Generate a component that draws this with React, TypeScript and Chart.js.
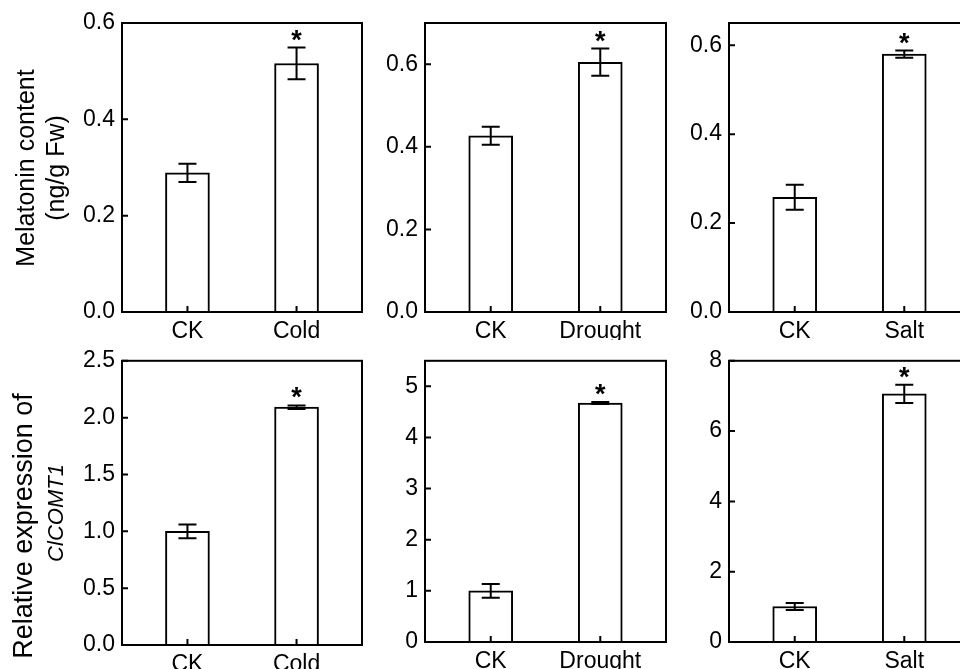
import React, { useEffect, useRef } from 'react';
import { Chart, registerables } from 'chart.js';

Chart.register(...registerables);

// ---------- data ----------
const coldCategories = ['CK', 'Cold'];
const droughtCategories = ['CK', 'Drought'];
const saltCategories = ['CK', 'Salt'];

const melatoninCold = [0.289, 0.516];
const melatoninColdErr = [0.019, 0.033];
const melatoninDrought = [0.427, 0.605];
const melatoninDroughtErr = [0.022, 0.033];
const melatoninSalt = [0.258, 0.58];
const melatoninSaltErr = [0.028, 0.008];

const expressionCold = [1.0, 2.092];
const expressionColdErr = [0.06, 0.015];
const expressionDrought = [1.0, 4.673];
const expressionDroughtErr = [0.135, 0.02];
const expressionSalt = [1.01, 7.06];
const expressionSaltErr = [0.1, 0.26];

const significant = [false, true];

const melatoninTicks = [0, 0.2, 0.4, 0.6];
const expressionColdTicks = [0, 0.5, 1.0, 1.5, 2.0, 2.5];
const expressionDroughtTicks = [0, 1, 2, 3, 4, 5];
const expressionSaltTicks = [0, 2, 4, 6, 8];

const melatoninTitle = ['Melatonin content', '(ng/g Fw)'];
const expressionTitle = ['Relative expression of', 'ClCOMT1'];

// ---------- layout / style ----------
const FONT = '"Liberation Sans", Arial, Helvetica, sans-serif';
const TICK_SIZE = 23;

type TitleLine = { x: number; cy: number; size: number; italic: boolean };

type Panel = {
  left: number; top: number; width: number; height: number;
  boxLeft: number; boxRight: number; boxTop: number; boxBottom: number;
  categories: string[]; means: number[]; errs: number[];
  ticks: number[]; max: number; decimals: number;
  title?: string[]; titleStyle?: TitleLine[];
};

const panels: Panel[] = [
  { left: 0, top: 0, width: 365, height: 340, boxLeft: 122, boxRight: 362, boxTop: 23, boxBottom: 312,
    categories: coldCategories, means: melatoninCold, errs: melatoninColdErr, ticks: melatoninTicks, max: 0.6, decimals: 1,
    title: melatoninTitle,
    titleStyle: [ { x: 27, cy: 168, size: 25, italic: false }, { x: 57, cy: 168, size: 25, italic: false } ] },
  { left: 365, top: 0, width: 304, height: 340, boxLeft: 425, boxRight: 666, boxTop: 23, boxBottom: 312,
    categories: droughtCategories, means: melatoninDrought, errs: melatoninDroughtErr, ticks: melatoninTicks, max: 0.7, decimals: 1 },
  { left: 669, top: 0, width: 304, height: 340, boxLeft: 729, boxRight: 970, boxTop: 23, boxBottom: 312,
    categories: saltCategories, means: melatoninSalt, errs: melatoninSaltErr, ticks: melatoninTicks, max: 0.65, decimals: 1 },
  { left: 0, top: 340, width: 365, height: 329, boxLeft: 122, boxRight: 362, boxTop: 357, boxBottom: 645,
    categories: coldCategories, means: expressionCold, errs: expressionColdErr, ticks: expressionColdTicks, max: 2.5, decimals: 1,
    title: expressionTitle,
    titleStyle: [ { x: 25, cy: 526, size: 27, italic: false }, { x: 57, cy: 513, size: 22, italic: true } ] },
  { left: 365, top: 340, width: 304, height: 329, boxLeft: 425, boxRight: 666, boxTop: 354, boxBottom: 642,
    categories: droughtCategories, means: expressionDrought, errs: expressionDroughtErr, ticks: expressionDroughtTicks, max: 5.5, decimals: 0 },
  { left: 669, top: 340, width: 304, height: 329, boxLeft: 729, boxRight: 970, boxTop: 354, boxBottom: 642,
    categories: saltCategories, means: expressionSalt, errs: expressionSaltErr, ticks: expressionSaltTicks, max: 8, decimals: 0 },
];

const decorPlugin = {
  id: 'panelDecor',
  afterDraw(chart: any, _args: any, opts: any) {
    const { ctx, chartArea: a, scales } = chart;
    const xs = scales.x, ys = scales.y;
    ctx.save();
    ctx.strokeStyle = '#000';
    ctx.fillStyle = '#000';
    ctx.lineWidth = 2;
    const means: number[] = opts.means;
    const errs: number[] = opts.errs;
    // error bars + significance marks
    means.forEach((m, i) => {
      const px = xs.getPixelForValue(i);
      const top = ys.getPixelForValue(m + errs[i]);
      const bot = ys.getPixelForValue(m - errs[i]);
      ctx.beginPath();
      ctx.moveTo(px, top); ctx.lineTo(px, bot);
      ctx.moveTo(px - 9, top); ctx.lineTo(px + 9, top);
      ctx.moveTo(px - 9, bot); ctx.lineTo(px + 9, bot);
      ctx.stroke();
      if (significant[i]) {
        ctx.font = `bold 27px ${FONT}`;
        ctx.textAlign = 'center';
        ctx.textBaseline = 'alphabetic';
        ctx.fillText('*', px, top + 1);
      }
    });
    // inward tick marks
    ctx.beginPath();
    ys.ticks.forEach((t: any) => {
      const py = ys.getPixelForValue(t.value);
      ctx.moveTo(a.left, py); ctx.lineTo(a.left + 6, py);
    });
    xs.ticks.forEach((t: any) => {
      const px = xs.getPixelForValue(t.value);
      ctx.moveTo(px, a.bottom); ctx.lineTo(px, a.bottom - 6);
    });
    ctx.stroke();
    // frame
    ctx.strokeRect(a.left, a.top, a.right - a.left, a.bottom - a.top);
    // y-axis title
    const title: string[] | undefined = opts.title;
    const style: TitleLine[] | undefined = opts.titleStyle;
    if (title && style) {
      title.forEach((t, k) => {
        const s = style[k];
        ctx.save();
        ctx.translate(s.x, s.cy - opts.canvasTop);
        ctx.rotate(-Math.PI / 2);
        ctx.font = `${s.italic ? 'italic ' : ''}${s.size}px ${FONT}`;
        ctx.textAlign = 'center';
        ctx.textBaseline = 'middle';
        ctx.fillText(t, 0, 0);
        ctx.restore();
      });
    }
    ctx.restore();
  },
};

function PanelChart({ p }: { p: Panel }) {
  const ref = useRef<HTMLCanvasElement | null>(null);
  useEffect(() => {
    if (!ref.current) return;
    const chart = new Chart(ref.current, {
      type: 'bar',
      data: {
        datasets: [
          {
            data: p.means.map((m, i) => ({ x: i, y: m })),
            backgroundColor: '#ffffff',
            borderColor: '#000000',
            borderWidth: 2,
            barThickness: 44,
          } as any,
        ],
      },
      options: {
        animation: false,
        responsive: false,
        devicePixelRatio: 1,
        layout: {
          padding: { top: p.boxTop - p.top, right: p.left + p.width - p.boxRight, left: 0, bottom: 0 },
        },
        plugins: {
          legend: { display: false },
          tooltip: { enabled: false },
          panelDecor: { means: p.means, errs: p.errs, title: p.title, titleStyle: p.titleStyle, canvasTop: p.top },
        } as any,
        scales: {
          x: {
            type: 'linear',
            min: -0.6,
            max: 1.6,
            offset: false,
            afterBuildTicks: (s: any) => {
              s.ticks = p.categories.map((_, i) => ({ value: i }));
            },
            afterFit: (s: any) => {
              s.height = p.top + p.height - p.boxBottom;
            },
            ticks: {
              callback: (v: any) => p.categories[Math.round(Number(v))] ?? '',
              font: { family: FONT, size: TICK_SIZE },
              color: '#000',
              padding: 6,
              autoSkip: false,
              maxRotation: 0,
            },
            grid: { display: false, drawTicks: false, drawOnChartArea: false },
            border: { display: false },
          } as any,
          y: {
            min: 0,
            max: p.max,
            afterBuildTicks: (s: any) => {
              s.ticks = p.ticks.map((v) => ({ value: v }));
            },
            afterFit: (s: any) => {
              s.width = p.boxLeft - p.left;
            },
            ticks: {
              callback: (v: any) => Number(v).toFixed(p.decimals),
              font: { family: FONT, size: TICK_SIZE },
              color: '#000',
              padding: 7,
            },
            grid: { display: false, drawTicks: false, drawOnChartArea: false },
            border: { display: false },
          } as any,
        },
      },
      plugins: [decorPlugin],
    } as any);
    return () => chart.destroy();
  }, [p]);
  return (
    <canvas
      ref={ref}
      width={p.width}
      height={p.height}
      style={{ position: 'absolute', left: p.left, top: p.top, width: p.width, height: p.height }}
    />
  );
}

export default function App() {
  return (
    <div
      style={{
        position: 'fixed', left: 0, top: 0, width: 960, height: 669,
        overflow: 'hidden', background: '#fff',
      }}
    >
      {panels.map((p, i) => (
        <PanelChart key={i} p={p} />
      ))}
    </div>
  );
}
